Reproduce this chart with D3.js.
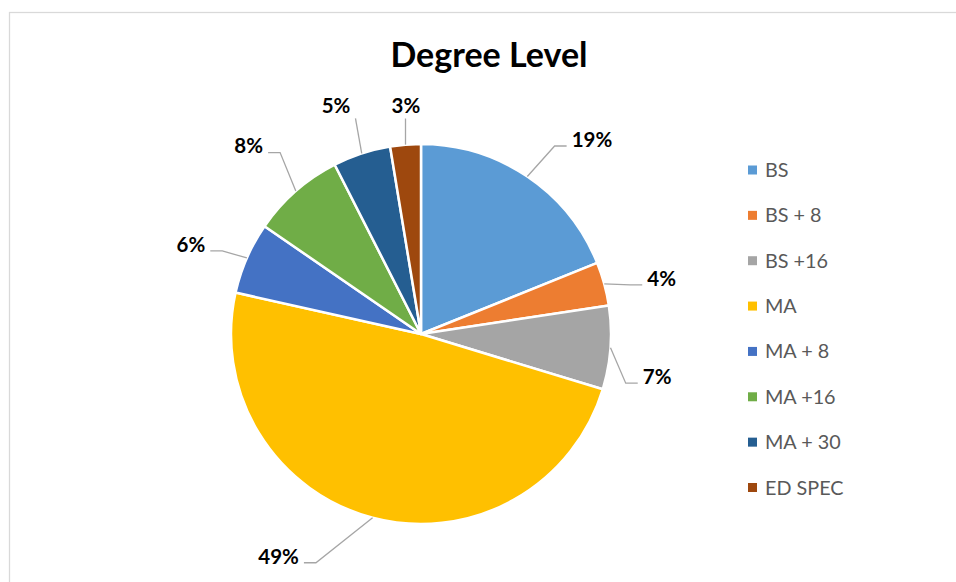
<!DOCTYPE html>
<html>
<head>
<meta charset="utf-8">
<script src="https://cdn.jsdelivr.net/npm/d3@7"></script>
<style>
  html, body { margin: 0; padding: 0; background: #fff; }
  svg { display: block; }
</style>
</head>
<body>
<svg id="chart" width="956" height="582"></svg>
<script>
// Degree level distribution (percent of staff)
const categories = ["BS", "BS + 8", "BS +16", "MA", "MA + 8", "MA +16", "MA + 30", "ED SPEC"];
const shares = [18.9, 3.7, 7.1, 48.8, 6.1, 7.9, 4.9, 2.6];
const colors = ["#5B9BD5", "#ED7D31", "#A5A5A5", "#FFC000", "#4472C4", "#70AD47", "#255E91", "#9E480E"];
const chartTitle = "Degree Level";

// Data-label layout: angular shift (degrees) from the slice mid-angle, and distance from the centre
const labelShift = [7.3, 2.3, 6.1, 17.9, -2.3, -1.3, -2.2, 0.9];
const labelDist = [259, 247, 240, 264, 247, 255, 244, 229];

const W = 956, H = 582;
const cx = 421, cy = 334, R = 190;
const FONT = "Lato, 'Open Sans', 'DejaVu Sans', sans-serif";

const svg = d3.select("#chart");

// chart area frame
svg.append("rect")
  .attr("x", 9.5).attr("y", 12.5)
  .attr("width", W + 20).attr("height", H + 20)
  .attr("fill", "#fff")
  .attr("stroke", "#D9D9D9").attr("stroke-width", 1.25);

// title
svg.append("text")
  .attr("x", 489).attr("y", 67)
  .attr("text-anchor", "middle")
  .attr("font-family", FONT).attr("font-weight", 700)
  .attr("font-size", 34).attr("fill", "#000")
  .text(chartTitle);

const total = d3.sum(shares);
const arcs = d3.pie().sort(null).value(d => d)(shares);
const arc = d3.arc().innerRadius(0).outerRadius(R);
const color = d3.scaleOrdinal().domain(categories).range(colors);

const g = svg.append("g").attr("transform", `translate(${cx},${cy})`);

g.selectAll("path.slice")
  .data(arcs)
  .join("path")
  .attr("class", "slice")
  .attr("d", arc)
  .attr("fill", (d, i) => color(categories[i]))
  .attr("stroke", "#fff")
  .attr("stroke-width", 2.5)
  .attr("stroke-linejoin", "round");

// polar helper, angle measured clockwise from 12 o'clock
const polar = (a, r) => [r * Math.sin(a), -r * Math.cos(a)];

const labelLayer = g.append("g");
const lineLayer = g.insert("g", () => labelLayer.node());
const LFS = 20.5;

arcs.forEach((d, i) => {
  const mid = (d.startAngle + d.endAngle) / 2;
  const la = mid + labelShift[i] * Math.PI / 180;
  const [lx, ly] = polar(la, labelDist[i]);
  const txt = labelLayer.append("text")
    .attr("x", lx).attr("y", ly + 0.36 * LFS)
    .attr("text-anchor", "middle")
    .attr("font-family", FONT).attr("font-weight", 700)
    .attr("font-size", LFS).attr("fill", "#000")
    .text(Math.round(d.value / total * 100) + "%");
  const w = txt.node().getBBox().width;
  const left = lx - w / 2 - 5, right = lx + w / 2 + 5;
  const rim = polar(mid, R);
  let pts;
  if (rim[0] > left - 10 && rim[0] < right + 10 && rim[1] > ly) {
    // label sits above the slice: leader meets the bottom of the label box
    const ex = Math.max(left, Math.min(right, rim[0]));
    pts = [rim, [ex, ly + 13]];
  } else {
    const toLeft = rim[0] > lx; // label lies left of its slice
    const ex = toLeft ? right : left;
    const ey = ly + 6.5;
    const elbow = [ex + (toLeft ? 12 : -12), ey];
    pts = [rim, elbow, [ex, ey]];
  }
  lineLayer.append("polyline")
    .attr("points", pts.map(p => p.join(",")).join(" "))
    .attr("fill", "none")
    .attr("stroke", "#A6A6A6")
    .attr("stroke-width", 1.3);
});

// legend
const legendY = d3.scalePoint().domain(categories).range([170, 487.5]);
const legend = svg.append("g");
categories.forEach((c, i) => {
  const y = legendY(c);
  legend.append("rect")
    .attr("x", 748).attr("y", y - 4.5)
    .attr("width", 9).attr("height", 9)
    .attr("fill", color(c));
  legend.append("text")
    .attr("x", 765).attr("y", y + 7)
    .attr("font-family", FONT).attr("font-size", 19.8)
    .attr("fill", "#595959")
    .text(c);
});
</script>
</body>
</html>
